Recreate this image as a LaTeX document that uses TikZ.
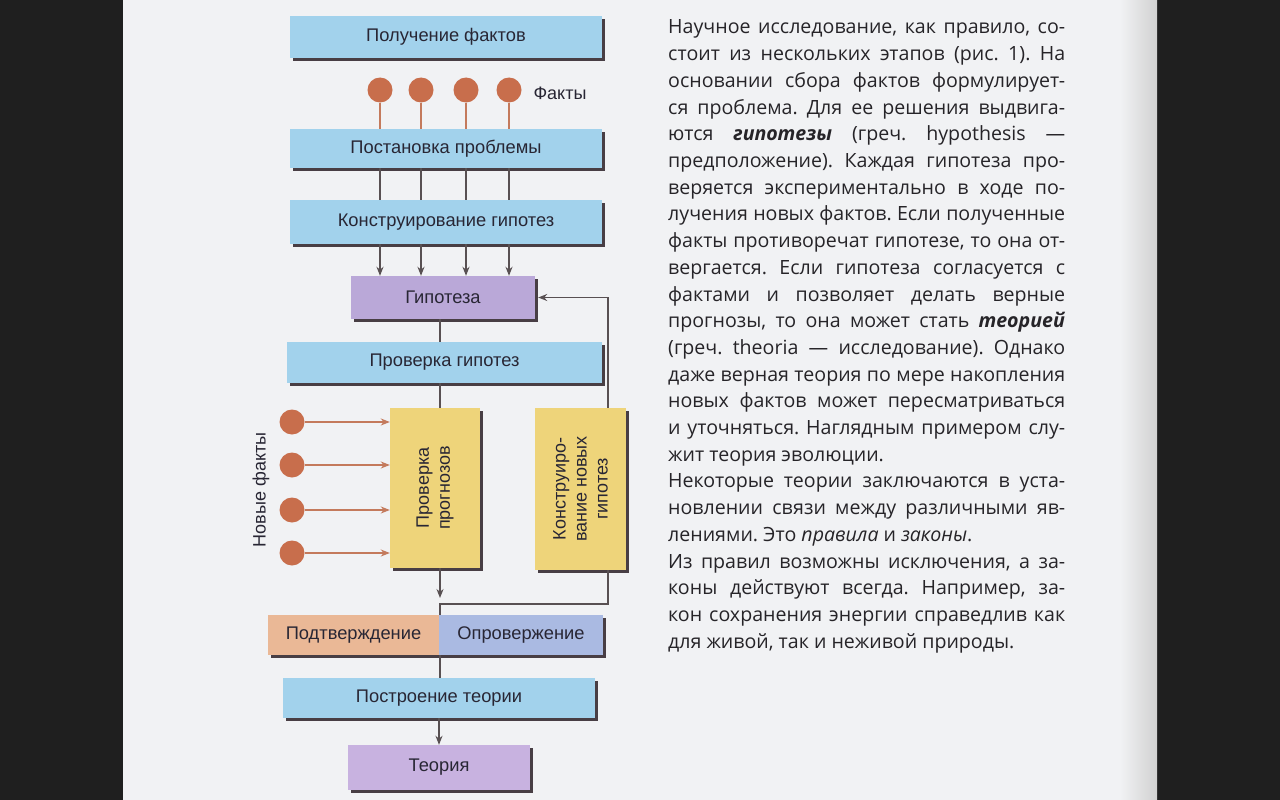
\documentclass[tikz,border=0pt]{standalone}
\usepackage{fontspec}
\setmainfont{Open Sans}
\newfontfamily\dfont{Liberation Sans}
\usetikzlibrary{arrows.meta,shadows}
\definecolor{pagec}{HTML}{F1F2F4}
\definecolor{bluec}{RGB}{162,210,236}
\definecolor{purpc}{RGB}{186,168,216}
\definecolor{teoc}{RGB}{200,178,224}
\definecolor{yelc}{RGB}{238,212,122}
\definecolor{podc}{RGB}{234,184,150}
\definecolor{oprc}{RGB}{170,186,226}
\definecolor{shc}{RGB}{72,62,68}
\definecolor{dotc}{RGB}{200,110,76}
\definecolor{dlinec}{RGB}{196,122,92}
\definecolor{linec}{RGB}{88,80,82}
\definecolor{txtc}{RGB}{40,38,52}
\definecolor{bodyc}{RGB}{38,36,40}
\tikzset{
  box/.style={rectangle, inner sep=0pt, text=txtc,
    font=\dfont\fontsize{18.3}{20}\selectfont,
    drop shadow={shadow xshift=3pt, shadow yshift=-3pt, fill=shc, opacity=1}},
  bbox/.style={box, fill=bluec},
  lbl/.style={inner sep=0pt, text=txtc, font=\dfont\fontsize{18}{21}\selectfont, align=center},
  dot/.style={circle, fill=dotc, minimum size=25pt, inner sep=0pt},
  conn/.style={draw=linec, line width=1.4pt},
  dconn/.style={draw=dlinec, line width=1.3pt},
  tip/.style={-{Stealth[length=9pt,width=7pt]}},
  bodyline/.style={anchor=base west, inner sep=0pt, text=bodyc, font=\fontsize{19.6}{24}\selectfont}
}
\newcommand{\jl}[1]{\makebox[397pt][s]{#1}}
\frenchspacing
\begin{document}
\begin{tikzpicture}[x=1pt,y=-1pt]
\useasboundingbox (0,0) rectangle (1280,800);
\fill[black!88] (0,0) rectangle (1280,800);
\fill[pagec] (123,0) rectangle (1157,800);
\shade[left color=pagec, right color=black!18] (1120,0) rectangle (1157,800);

% boxes
\node[bbox, minimum width=312pt, minimum height=42pt] (pf) at (446,37) {Получение фактов};
\node[bbox, minimum width=312pt, minimum height=39pt] (pp) at (446,148.5) {Постановка проблемы};
\node[bbox, minimum width=312pt, minimum height=44pt] (kg) at (446,222) {Конструирование гипотез};
\node[box, fill=purpc, minimum width=184pt, minimum height=43pt] (hyp) at (443,297.5) {Гипотеза};
\node[bbox, minimum width=315pt, minimum height=41pt] (pg) at (444.5,362.5) {Проверка гипотез};
\node[box, fill=yelc, minimum width=90pt, minimum height=160pt] (ppr) at (435,488) {};
\node[lbl, rotate=90] (pprl) at (ppr.center) {Проверка\\прогнозов};
\node[box, fill=yelc, minimum width=91pt, minimum height=162pt] (kng) at (580.5,489) {};
\node[lbl, rotate=90] (kngl) at (kng.center) {Конструиро-\\вание новых\\гипотез};
\node[box, fill=podc, minimum width=171pt, minimum height=40pt] (podt) at (353.5,635) {Подтверждение};
\node[box, fill=oprc, minimum width=164pt, minimum height=40pt] (opr) at (521,635) {Опровержение};
\node[bbox, minimum width=312pt, minimum height=40pt] (pt) at (439,698) {Построение теории};
\node[box, fill=teoc, minimum width=182pt, minimum height=45pt] (teo) at (439,767.5) {Теория};

% facts
\node[dot] (f1) at (380,90) {};
\node[dot] (f2) at (421,90) {};
\node[dot] (f3) at (466,90) {};
\node[dot] (f4) at (509,90) {};
\node[lbl] (fl) at (560,93) {Факты};
\foreach \i in {1,...,4}{
  \draw[dconn] (f\i.south) -- (f\i.south |- pp.north);
  \draw[conn] (pp.south -| f\i) -- (kg.north -| f\i);
  \draw[conn,tip] (kg.south -| f\i) -- (hyp.north -| f\i);
}

% new facts
\node[dot] (n1) at (292,422) {};
\node[dot] (n2) at (292,465) {};
\node[dot] (n3) at (292,510) {};
\node[dot] (n4) at (292,553) {};
\node[lbl, rotate=90] (nl) at (261,490) {Новые факты};
\foreach \i in {1,...,4}{
  \draw[dconn,tip] (n\i.east) -- (n\i -| ppr.west);
}

% main connectors
\coordinate (ax) at (440,0);
\coordinate (fb) at (608,0);
\coordinate (arrEnd) at (440,598);
\coordinate (j) at (608,604);
\draw[conn] (hyp.south -| ax) -- (pg.north -| ax);
\draw[conn] (pg.south -| ax) -- (ppr.north -| ax);
\draw[conn,tip] (ppr.south -| ax) -- (arrEnd);
\draw[conn,tip] (kng.north -| fb) -- (fb |- hyp.east) -- ([xshift=3pt]hyp.east);
\draw[conn] (opr.north -| ax) -- (ax |- j) -- (j) -- (kng.south -| j);
\draw[conn] (opr.south -| ax) -- (pt.north -| ax);
\draw[conn,tip] (pt.south) -- (teo.north);

% body text
\foreach \t [count=\i] in {
 {\jl{Научное исследование, как правило, со-}},
 {\jl{стоит из нескольких этапов (рис. 1). На}},
 {\jl{основании сбора фактов формулирует-}},
 {\jl{ся проблема. Для ее решения выдвига-}},
 {\jl{ются \textbf{\textit{гипотезы}} (греч. hypothesis —}},
 {\jl{предположение). Каждая гипотеза про-}},
 {\jl{веряется экспериментально в ходе по-}},
 {\jl{лучения новых фактов. Если полученные}},
 {\jl{факты противоречат гипотезе, то она от-}},
 {\jl{вергается. Если гипотеза согласуется с}},
 {\jl{фактами и позволяет делать верные}},
 {\jl{прогнозы, то она может стать \textbf{\textit{теорией}}}},
 {\jl{(греч. theoria — исследование). Однако}},
 {\jl{даже верная теория по мере накопления}},
 {\jl{новых фактов может пересматриваться}},
 {\jl{и уточняться. Наглядным примером слу-}},
 {жит теория эволюции.},
 {\jl{Некоторые теории заключаются в уста-}},
 {\jl{новлении связи между различными яв-}},
 {лениями. Это \textit{правила} и \textit{законы}.},
 {\jl{Из правил возможны исключения, а за-}},
 {\jl{коны действуют всегда. Например, за-}},
 {\jl{кон сохранения энергии справедлив как}},
 {для живой, так и неживой природы.}
}{
  \node[bodyline] (b\i) at (668,{34+(\i-1)*26.7}) {\t};
}
\end{tikzpicture}
\end{document}
